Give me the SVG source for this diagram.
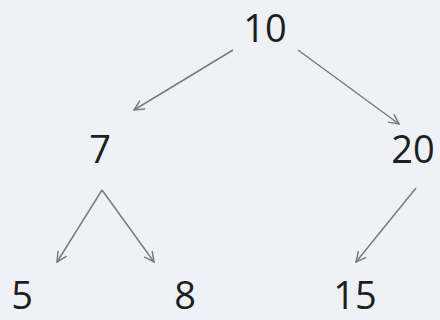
<svg xmlns="http://www.w3.org/2000/svg" width="440" height="320" viewBox="0 0 440 320">
<style>
.lbl{font-family:"Open Sans","Liberation Sans",sans-serif;font-size:38px;fill:#1e1e1e;text-anchor:middle}
.edge{stroke:#7a7a80;stroke-width:1.5;fill:none;marker-end:url(#ah)}
</style>
<defs>
<marker id="ah" viewBox="0 0 12 12" refX="11" refY="6" markerWidth="12" markerHeight="12" markerUnits="userSpaceOnUse" orient="auto">
<path d="M1,1 L11,6 L1,11" fill="none" stroke="#7a7a80" stroke-width="1.5"/>
</marker>
</defs>
<rect width="440" height="320" fill="#eef2f6"/>
<g id="connectors">
<line class="edge" x1="233" y1="50" x2="134" y2="110"/>
<line class="edge" x1="298" y1="50" x2="399" y2="124"/>
<line class="edge" x1="102" y1="190" x2="57" y2="262"/>
<line class="edge" x1="102" y1="190" x2="154" y2="262"/>
<line class="edge" x1="416" y1="188" x2="356" y2="262"/>
</g>
<g id="n10"><text class="lbl" x="265" y="42">10</text></g>
<g id="n7"><text class="lbl" x="100" y="163">7</text></g>
<g id="n20"><text class="lbl" x="413" y="163">20</text></g>
<g id="n5"><text class="lbl" x="22" y="309">5</text></g>
<g id="n8"><text class="lbl" x="185" y="309">8</text></g>
<g id="n15"><text class="lbl" x="355" y="309">15</text></g>
</svg>
